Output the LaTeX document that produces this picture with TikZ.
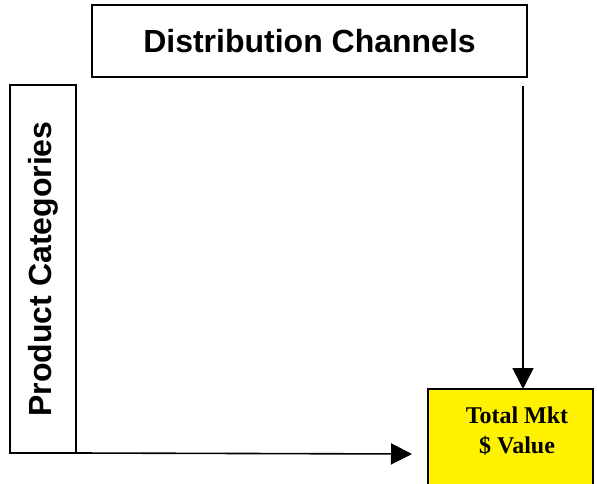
\documentclass[tikz,border=0pt]{standalone}
\usepackage{fontspec}
\setmainfont{Liberation Serif}
\setsansfont{Liberation Sans}
\usetikzlibrary{arrows.meta}

\tikzset{
  frame/.style={draw=black, line width=1.5pt, inner sep=0pt, outer sep=0pt},
  headtext/.style={font=\sffamily\bfseries\fontsize{32}{36}\selectfont},
  flow/.style={draw=black, line width=1.6pt, -{Triangle[length=21pt,width=21pt]}},
  valuetext/.style={font=\rmfamily\bfseries\fontsize{24}{30}\selectfont, align=center, inner sep=0pt}
}

\begin{document}
\begin{tikzpicture}[x=1pt, y=-1pt]
  \clip (0,0) rectangle (597,484);
  \fill[white] (0,0) rectangle (597,484);

  % column header
  \node[frame, anchor=north west, minimum width=435pt, minimum height=72pt, headtext]
    (dist) at (92,5) {Distribution Channels};

  % row header, set vertically
  \node[frame, anchor=north west, minimum width=66pt, minimum height=368pt]
    (cat) at (10,85) {};
  \node[headtext, rotate=90] (catlabel) at (cat.center) {Product Categories};

  % result cell
  \node[frame, fill=yellow, anchor=north west, minimum width=165pt, minimum height=130pt]
    (total) at (428,389) {};
  \node[valuetext] (totallabel) at (517,431) {Total Mkt\\\$ Value};

  % connectors
  \coordinate (vstart) at (523,86);
  \coordinate (hend) at (412,454);
  \draw[flow] (vstart) -- (vstart |- total.north);
  \draw[flow] (cat.south east) -- (hend);
\end{tikzpicture}
\end{document}
